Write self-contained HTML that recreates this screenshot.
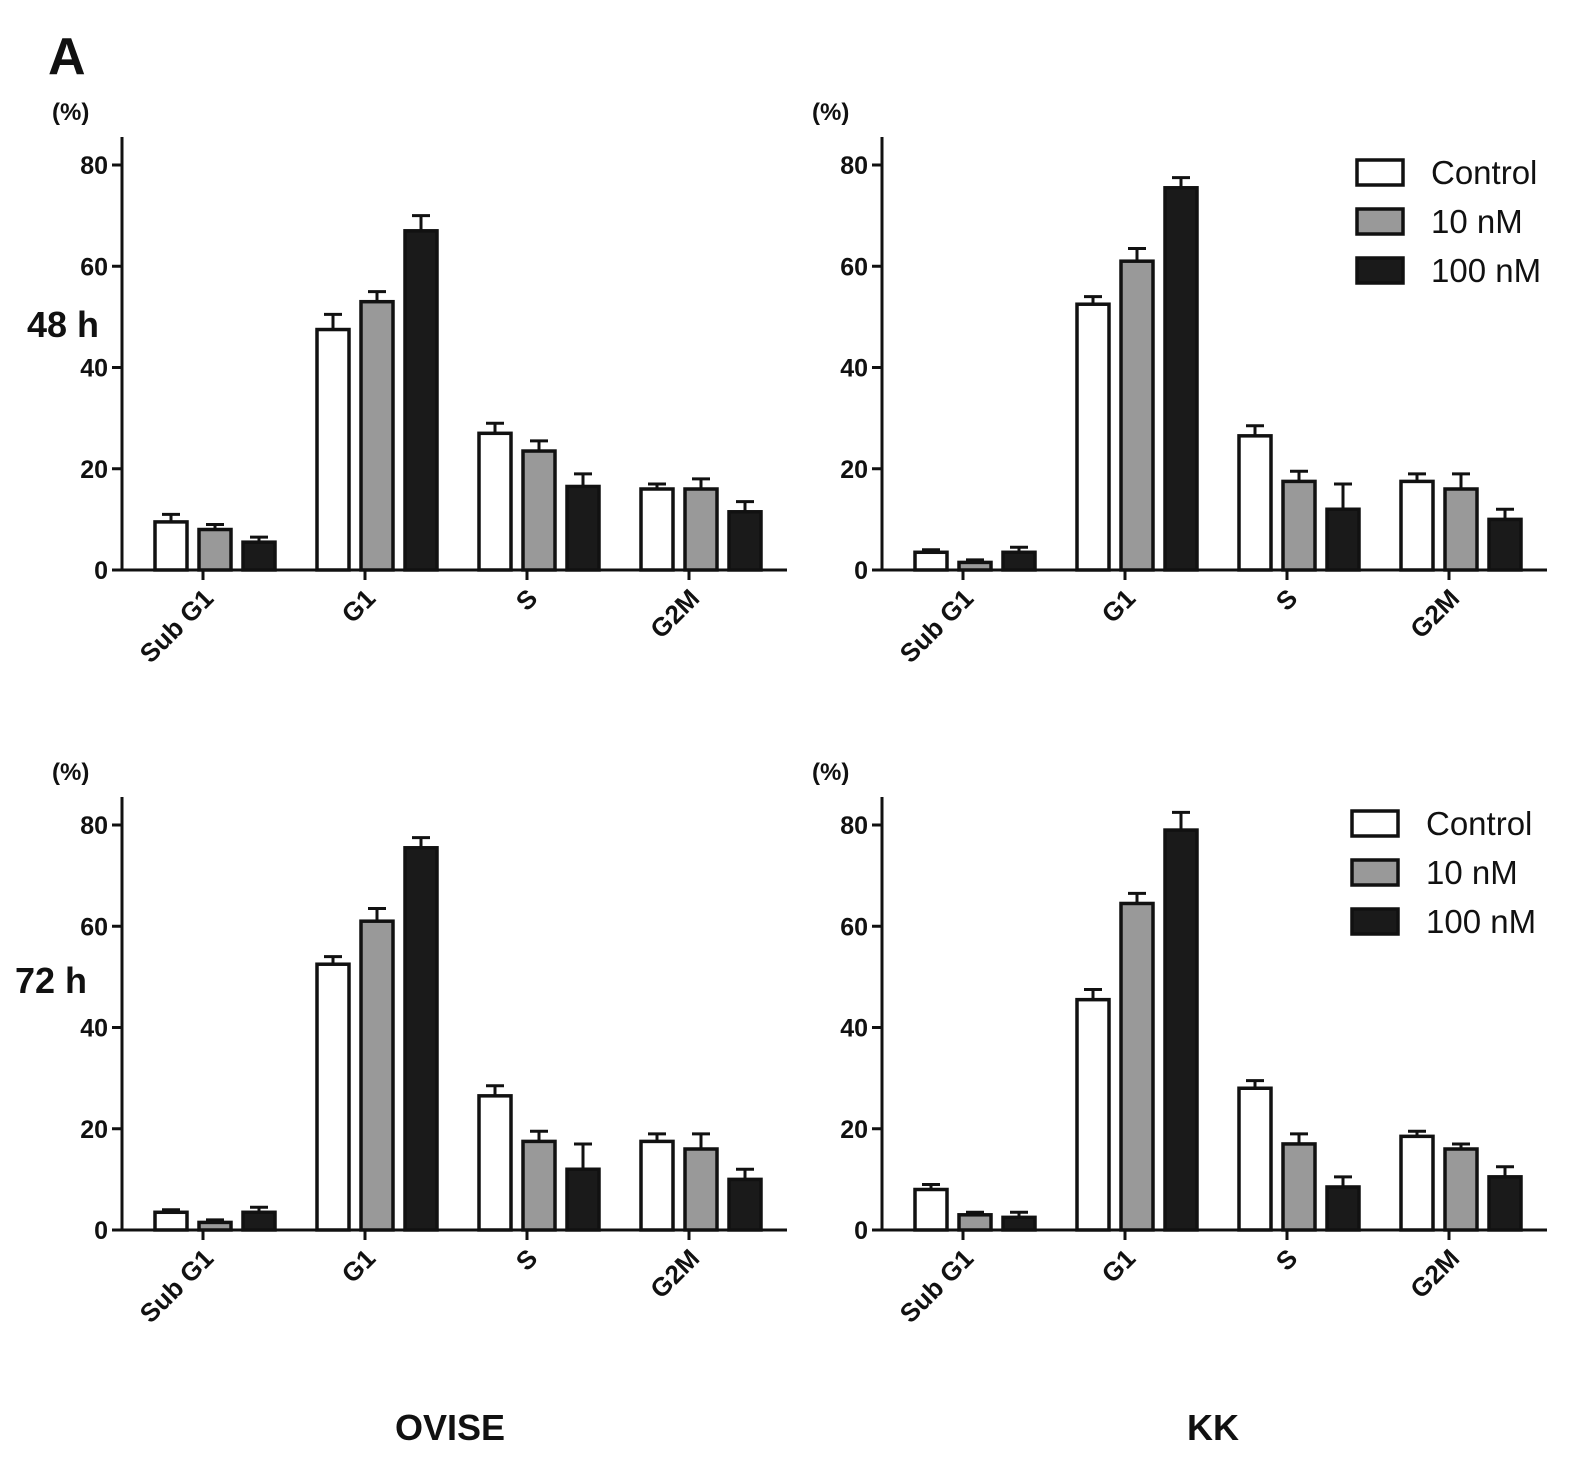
<!DOCTYPE html>
<html><head><meta charset="utf-8"><style>
body{margin:0;background:#fff}
svg text{font-family:"Liberation Sans",Arial,sans-serif;font-weight:bold;fill:#111}
</style></head><body>
<svg id="c" width="1582" height="1464" viewBox="0 0 1582 1464"></svg>
<script>
const categories=["Sub G1","G1","S","G2M"];
const seriesNames=["Control","10 nM","100 nM"];
const tickLabels=[0,20,40,60,80];
const ovise48=[[9.5,47.5,27,16],[8,53,23.5,16],[5.5,67,16.5,11.5]];
const ovise48Err=[[1.5,3,2,1],[1,2,2,2],[1,3,2.5,2]];
const kk48=[[3.5,52.5,26.5,17.5],[1.5,61,17.5,16],[3.5,75.5,12,10]];
const kk48Err=[[0.5,1.5,2,1.5],[0.5,2.5,2,3],[1,2,5,2]];
const ovise72=[[3.5,52.5,26.5,17.5],[1.5,61,17.5,16],[3.5,75.5,12,10]];
const ovise72Err=[[0.5,1.5,2,1.5],[0.5,2.5,2,3],[1,2,5,2]];
const kk72=[[8,45.5,28,18.5],[3,64.5,17,16],[2.5,79,8.5,10.5]];
const kk72Err=[[1,2,1.5,1],[0.5,2,2,1],[1,3.5,2,2]];
const fills=["#ffffff","#999999","#1a1a1a"];
const svg=document.getElementById('c');
const NS="http://www.w3.org/2000/svg";
function mk(t,a,txt){const e=document.createElementNS(NS,t);for(const k in a)e.setAttribute(k,a[k]);if(txt!==undefined)e.textContent=txt;svg.appendChild(e);return e;}
function panel(name,ax,y0,vals,errs,legend){
  const y80=y0-405;
  const ys=v=>y0-v*(405/80);
  const xs=(g,s)=>ax+33+g*162+s*44;
  let e=mk('line',{x1:ax,y1:y0,x2:ax,y2:y80-28,stroke:'#111','stroke-width':3});
  
  e=mk('line',{x1:ax,y1:y0,x2:ax+665,y2:y0,stroke:'#111','stroke-width':3});
  
  tickLabels.forEach(t=>{
    mk('line',{x1:ax-10,y1:ys(t),x2:ax,y2:ys(t),stroke:'#111','stroke-width':3});
    e=mk('text',{x:ax-14,y:ys(t)+9,'text-anchor':'end','font-size':25},t);
    
  });
  e=mk('text',{x:ax-70,y:y80-45,'font-size':24},'(%)');
  
  categories.forEach((c,g)=>{
    mk('line',{x1:ax+81+g*162,y1:y0,x2:ax+81+g*162,y2:y0+10,stroke:'#111','stroke-width':3});
    const cx=ax+81+g*162+12, cy=y0+30;
    e=mk('text',{x:cx,y:cy,'text-anchor':'end','font-size':26,transform:`rotate(-45 ${cx} ${cy})`},c);
    
    for(let s=0;s<3;s++){
      const v=vals[s][g],er=errs[s][g],x=xs(g,s),top=ys(v),mid=x+16;
      mk('line',{x1:mid,y1:top,x2:mid,y2:ys(v+er),stroke:'#111','stroke-width':3});
      mk('line',{x1:mid-9,y1:ys(v+er),x2:mid+9,y2:ys(v+er),stroke:'#111','stroke-width':3});
      e=mk('rect',{x:x,y:top,width:32,height:y0-top,fill:fills[s],stroke:'#111','stroke-width':3.5});
      
    }
  });
  if(legend){
    const [lx,ly]=legend;
    seriesNames.forEach((n,i)=>{
      e=mk('rect',{x:lx,y:ly+i*49,width:46,height:25,fill:fills[i],stroke:'#111','stroke-width':3.5});
      
      e=mk('text',{x:lx+74,y:ly+i*49+24,'font-size':33,style:'font-weight:normal'},n);
      
    });
  }
}
panel('ovise-48h',122,570,ovise48,ovise48Err,null);
panel('kk-48h',882,570,kk48,kk48Err,[1357,160]);
panel('ovise-72h',122,1230,ovise72,ovise72Err,null);
panel('kk-72h',882,1230,kk72,kk72Err,[1352,811]);
let e=mk('text',{x:48,y:74,'font-size':52},'A');
e=mk('text',{x:27,y:337,'font-size':36},'48 h');
e=mk('text',{x:15,y:993,'font-size':36},'72 h');
e=mk('text',{x:450,y:1440,'font-size':36,'text-anchor':'middle'},'OVISE');
e=mk('text',{x:1213,y:1440,'font-size':36,'text-anchor':'middle'},'KK');
</script>
</body></html>
